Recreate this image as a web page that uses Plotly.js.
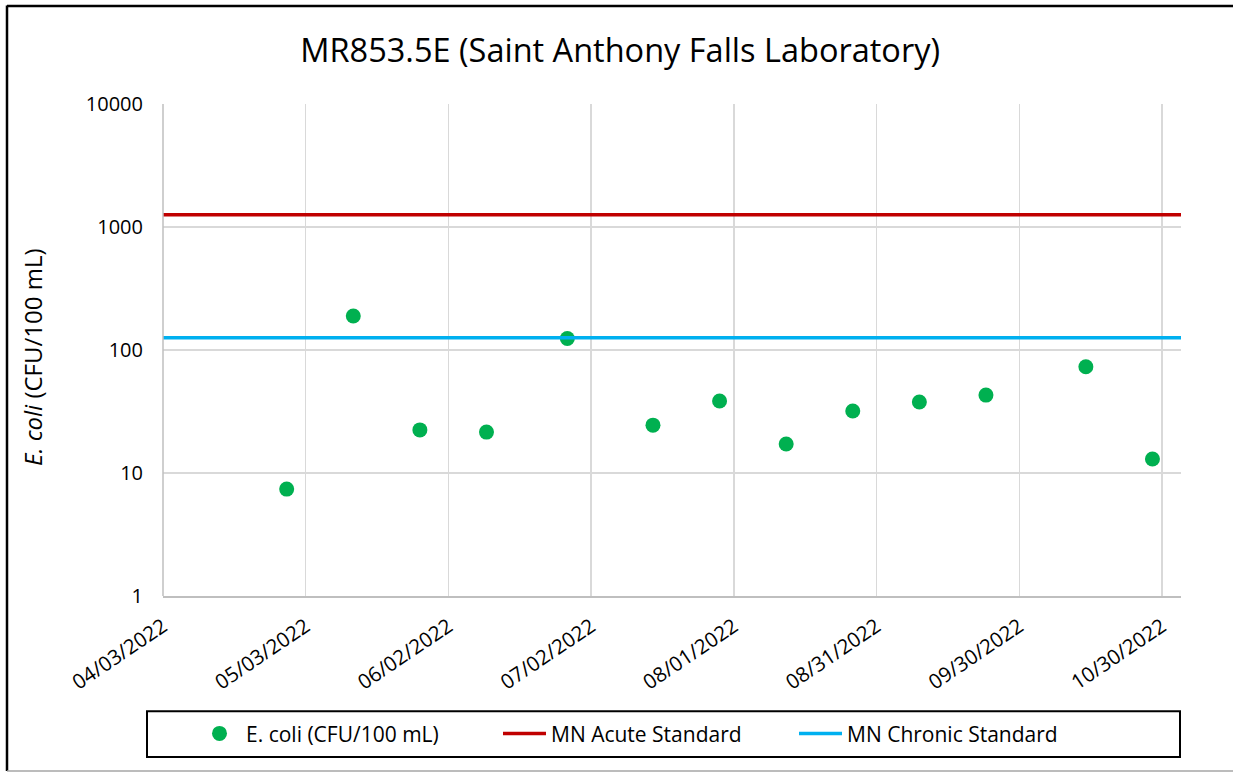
<!DOCTYPE html>
<html>
<head>
<meta charset="utf-8">
<script src="https://cdn.plot.ly/plotly-3.0.1.min.js"></script>
<style>
  html, body { margin: 0; padding: 0; background: #fff; overflow: hidden; }
  #chart { width: 1233px; height: 772px; }
</style>
</head>
<body>
<div id="chart"></div>
<script>
// Data
const sampleDates = ['2022-04-29','2022-05-13','2022-05-27','2022-06-10','2022-06-27','2022-07-15',
                     '2022-07-29','2022-08-12','2022-08-26','2022-09-09','2022-09-23','2022-10-14','2022-10-28'];
const ecoliValues = [7.4, 189, 22.4, 21.5, 124, 24.5, 38.5, 17.2, 31.9, 37.8, 43, 73, 13];
const rangeDates = ['2022-04-03', '2022-11-03'];
const acuteStandard = [1260, 1260];
const chronicStandard = [126, 126];
const yTickVals = [1, 10, 100, 1000, 10000];
const yTickText = ['1', '10', '100', '1000', '10000'];

const FONT = 'Open Sans, Noto Sans, sans-serif';

const traces = [
  { x: sampleDates, y: ecoliValues, type: 'scatter', mode: 'markers', name: 'E. coli (CFU/100 mL)',
    marker: { color: '#00b050', size: 15 }, legend: 'legend' },
  { x: rangeDates, y: acuteStandard, type: 'scatter', mode: 'lines', name: 'MN Acute Standard',
    line: { color: '#c00000', width: 3.5 }, legend: 'legend2' },
  { x: rangeDates, y: chronicStandard, type: 'scatter', mode: 'lines', name: 'MN Chronic Standard',
    line: { color: '#00b0f0', width: 3.5 }, legend: 'legend3' }
];

const legendBase = {
  orientation: 'h', xanchor: 'left', xref: 'paper', y: -0.28, yanchor: 'middle',
  font: { family: FONT, size: 21 }, bgcolor: 'rgba(0,0,0,0)', borderwidth: 0, itemwidth: 43
};

const layout = {
  width: 1233, height: 772,
  margin: { l: 143, r: 52, t: 104, b: 176 },
  paper_bgcolor: '#fff', plot_bgcolor: '#fff',
  font: { family: FONT, color: '#000' },
  title: { text: 'MR853.5E (Saint Anthony Falls Laboratory)', font: { family: FONT, size: 32.5, color: '#000' },
           x: 0.503, xanchor: 'center', xref: 'container', y: 0.935, yanchor: 'middle' },
  xaxis: {
    type: 'date', range: rangeDates, tick0: '2022-04-03', dtick: 30 * 86400000,
    domain: [0.01927, 1],
    tickformat: '%m/%d/%Y', tickangle: -34, tickfont: { family: FONT, size: 20.5 },
    showgrid: true, gridcolor: '#d9d9d9', gridwidth: 1.5,
    showline: true, linecolor: '#bfbfbf', linewidth: 1.5, zeroline: false,
    ticks: 'outside', ticklen: 9, tickcolor: 'rgba(0,0,0,0)'
  },
  yaxis: {
    type: 'log', range: [0, 4], tickvals: yTickVals, ticktext: yTickText,
    anchor: 'free', position: 0,
    tickfont: { family: FONT, size: 20 }, ticks: '',
    showgrid: true, gridcolor: '#d9d9d9', gridwidth: 1.5,
    showline: false, zeroline: false
  },
  annotations: [
    { text: '<i>E. coli</i> (CFU/100 mL)', xref: 'paper', yref: 'paper', x: -0.10597, y: 0.4858,
      xanchor: 'center', yanchor: 'middle', textangle: -90, showarrow: false,
      font: { family: FONT, size: 24, color: '#000' } }
  ],
  showlegend: true,
  legend: Object.assign({}, legendBase, { x: 0.04817 }),
  legend2: Object.assign({}, legendBase, { x: 0.34200 }),
  legend3: Object.assign({}, legendBase, { x: 0.62717 }),
  shapes: [
    // left axis line of the plot area
    { type: 'line', xref: 'x domain', yref: 'y domain', x0: 0, x1: 0, y0: 0, y1: 1,
      line: { color: '#bfbfbf', width: 1.5 } },
    // legend box
    { type: 'rect', xref: 'paper', yref: 'paper', x0: 0.003854, x1: 0.99904, y0: -0.327, y1: -0.234,
      line: { color: '#000', width: 2 }, fillcolor: 'rgba(0,0,0,0)' },
    // outer chart frame
    { type: 'line', xref: 'paper', yref: 'paper', x0: -0.13102, x1: -0.13102, y0: -0.3557, y1: 1.2002,
      line: { color: '#000', width: 2.5 } },
    { type: 'line', xref: 'paper', yref: 'paper', x0: -0.13102, x1: 1.0568, y0: 1.1992, y1: 1.1992,
      line: { color: '#000', width: 2.5 } },
    { type: 'line', xref: 'paper', yref: 'paper', x0: -0.13102, x1: 1.0568, y0: -0.3557, y1: -0.3557,
      line: { color: '#a6a6a6', width: 1.5 } }
  ]
};

Plotly.newPlot('chart', traces, layout, { displayModeBar: false, staticPlot: true });
</script>
</body>
</html>
